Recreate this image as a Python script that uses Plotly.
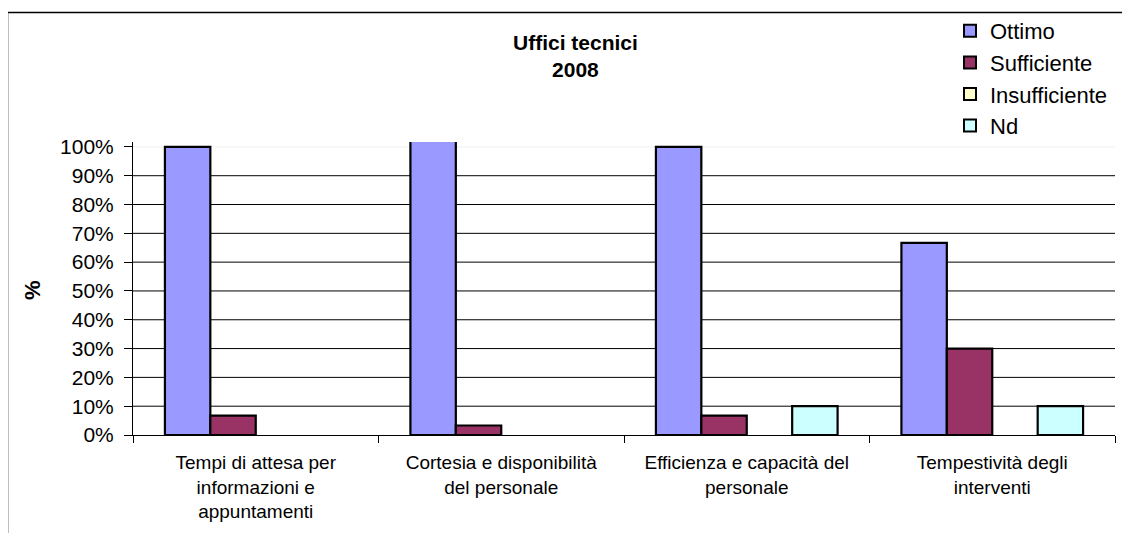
import plotly.graph_objects as go

categories = [
    "Tempi di attesa per<br>informazioni e<br>appuntamenti",
    "Cortesia e disponibilità<br>del personale",
    "Efficienza e capacità del<br>personale",
    "Tempestività degli<br>interventi",
]
series_names = ["Ottimo", "Sufficiente", "Insufficiente", "Nd"]
ottimo = [100.0, 103.3, 100.0, 66.7]
sufficiente = [6.7, 3.3, 6.7, 30.0]
insufficiente = [0.0, 0.0, 0.0, 0.0]
nd = [0.0, 0.0, 10.0, 10.0]
colors = ["#9999FF", "#993366", "#FFFFCC", "#CCFFFF"]
tick_vals = [0, 10, 20, 30, 40, 50, 60, 70, 80, 90, 100]
tick_text = [f"{v}%" for v in tick_vals]

FONT = "Liberation Sans, Arial, sans-serif"

# the page has an 8px body margin: work in page coordinates and shift
OFF = 8
W, H = 1130 - OFF, 533 - OFF
L, T = 133 - OFF, 142 - OFF
R = 1130 - 1115
B = 533 - 435
pw, ph = W - L - R, H - T - B


def px(xpage):
    return (xpage - OFF - L) / pw


def py(ypage):
    return (H - B - (ypage - OFF)) / ph


fig = go.Figure()
for i, (name, vals, col) in enumerate(zip(series_names, [ottimo, sufficiente, insufficiente, nd], colors)):
    fig.add_trace(go.Bar(
        x=categories, y=vals, name=name, offsetgroup=str(i), showlegend=False,
        legendgroup=name,
        marker=dict(color=col, line=dict(color="black",
                                         width=[2.2 if v > 0 else 0 for v in vals])),
    ))
    # legend entry (no visible mark)
    fig.add_trace(go.Bar(
        x=[categories[0]], y=[None], name=name, offsetgroup=str(i), showlegend=True,
        legendgroup=name,
        marker=dict(color=col, line=dict(color="black", width=2)),
    ))

shapes = []
for v in tick_vals[1:]:
    shapes.append(dict(
        type="line", xref="paper", yref="y", x0=0, x1=1, y0=v, y1=v,
        line=dict(color="#F0F0F0" if v == 100 else "#000000", width=1),
        layer="below",
    ))
shapes.append(dict(
    type="rect", xref="paper", yref="paper",
    x0=px(7.5), x1=px(1160), y0=py(580), y1=py(12.5),
    line=dict(color="black", width=1.5), fillcolor="rgba(0,0,0,0)", layer="above",
))

fig.update_layout(
    width=W, height=H,
    margin=dict(l=L, r=R, t=T, b=B, autoexpand=False),
    paper_bgcolor="white", plot_bgcolor="white",
    barmode="group", bargap=0.26, bargroupgap=0,
    font=dict(family=FONT, color="black"),
    shapes=shapes,
    showlegend=True,
    legend=dict(
        x=px(950), y=py(10), xanchor="left", yanchor="top",
        font=dict(size=22, family=FONT), bgcolor="rgba(0,0,0,0)",
        tracegroupgap=0, traceorder="normal",
    ),
    annotations=[
        dict(text="<b>Uffici tecnici<br>2008</b>", x=px(575), y=py(56),
             xref="paper", yref="paper", showarrow=False,
             xanchor="center", yanchor="middle", font=dict(size=21, family=FONT)),
        dict(text="<b>%</b>", x=px(32), y=py(290), xref="paper", yref="paper",
             showarrow=False, textangle=-90, xanchor="center", yanchor="middle",
             font=dict(size=22, family=FONT)),
    ],
)
fig.update_yaxes(
    range=[0, 101.7], tickvals=tick_vals, ticktext=tick_text,
    showgrid=False, zeroline=False, automargin=False,
    showline=True, linecolor="black", linewidth=1,
    ticks="outside", ticklen=8, tickcolor="black",
    ticklabelstandoff=6,
    tickfont=dict(size=21, family=FONT),
)
fig.update_xaxes(
    showgrid=False, showline=True, linecolor="black", linewidth=1, automargin=False,
    ticks="outside", tickson="boundaries", ticklen=7, tickcolor="black",
    ticklabelstandoff=10,
    tickfont=dict(size=19, family=FONT),
)

fig.write_html("out.html")
